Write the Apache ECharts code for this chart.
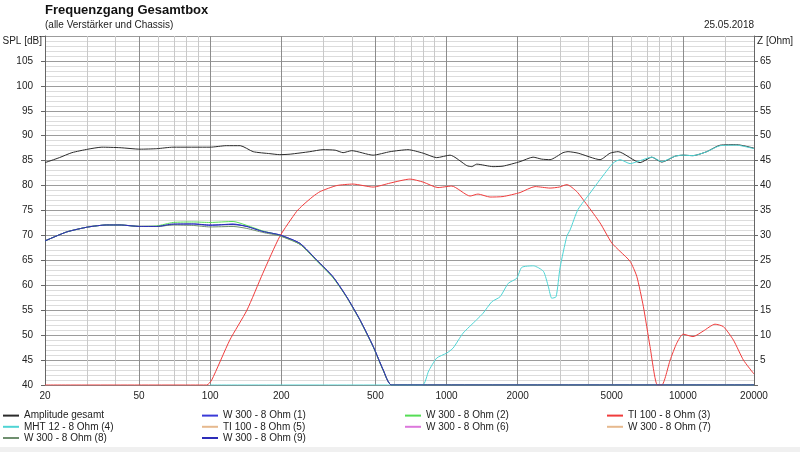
<!DOCTYPE html>
<html>
<head>
<meta charset="utf-8" />
<title>Frequenzgang Gesamtbox</title>
<script src="https://cdn.jsdelivr.net/npm/echarts@6/dist/echarts.min.js"></script>
<style>
  html, body { margin: 0; padding: 0; background: #fff; }
  #chart { width: 800px; height: 452px; }
</style>
</head>
<body>
<div id="chart"></div>
<script type="text/javascript">
// Achsen / Gitter
var freqLabels = [20, 50, 100, 200, 500, 1000, 2000, 5000, 10000, 20000];
var freqGridMinor = [30, 40, 60, 70, 80, 90, 300, 400, 600, 700, 800, 900,
  3000, 4000, 6000, 7000, 8000, 9000, 15000];

// Amplitude gesamt
var gesamtFreq = [20, 23, 26, 30.4, 34.8, 41.5, 50.5, 59.4, 69.6, 100, 117, 134, 152, 179, 197,
  218, 264, 300, 338, 365, 397, 489, 577, 687, 796, 909, 1035, 1219, 1279, 1342,
  1574, 1735, 2047, 2324, 2529, 2742, 3112, 3268, 3605, 4464, 4920, 5322, 6592, 7388, 8148,
  9278, 10020, 11040, 12620, 14380, 16910, 20000];
var gesamtSpl = [84.6, 85.6, 86.6, 87.3, 87.7, 87.6, 87.3, 87.4, 87.7, 87.7, 88.0, 88.0, 86.8, 86.4, 86.2,
  86.3, 86.8, 87.2, 87.1, 86.6, 87.0, 86.1, 86.8, 87.2, 86.5, 85.6, 86.1, 84.0, 83.8, 84.3,
  83.8, 83.9, 84.8, 85.7, 85.3, 85.2, 86.6, 86.8, 86.5, 85.2, 86.5, 86.8, 84.6, 85.7, 84.7,
  85.9, 86.1, 86.0, 86.8, 88.1, 88.2, 87.5];

// W 300 Tieftoener (1), (2), (8), (9)
var wFreq = [20, 24.7, 30.5, 36.5, 41.5, 50.5, 59.4, 69.8, 84.9, 100, 125, 143, 167, 197, 240,
  282, 331, 378, 430, 490, 540, 586, 20000];
var w1Spl = [68.9, 70.7, 71.7, 72.1, 72.1, 71.8, 71.8, 72.2, 72.3, 72.0, 72.3, 71.8, 70.8, 70.1, 68.4,
  65.1, 61.7, 57.7, 53.1, 47.7, 43.0, 40, 40];
var w2Spl = [68.9, 70.7, 71.7, 72.1, 72.1, 71.8, 71.9, 72.6, 72.7, 72.6, 72.8, 72.0, 70.9, 70.0, 68.2,
  64.9, 61.5, 57.6, 53.0, 47.6, 42.9, 40, 40];
var w8Spl = [68.9, 70.7, 71.7, 72.1, 72.1, 71.8, 71.8, 72.1, 72.0, 71.7, 71.8, 71.4, 70.6, 69.9, 68.2,
  65.0, 61.6, 57.6, 53.0, 47.6, 42.9, 40, 40];
var w9Spl = [68.9, 70.7, 71.7, 72.1, 72.1, 71.8, 71.8, 72.3, 72.3, 72.1, 72.2, 71.8, 70.8, 70.1, 68.4,
  65.1, 61.7, 57.7, 53.1, 47.7, 43.0, 40, 40];

// TI 100 (3)
var tiFreq = [20, 96.7, 101.5, 121, 143, 167, 197, 232, 247, 272, 292, 343, 402, 489, 577,
  701, 796, 920, 1052, 1258, 1359, 1528, 1735, 2047, 2370, 2742, 3000, 3228, 3556, 3922,
  4464, 5000, 5426, 5980, 6382, 6808, 7263, 7800, 8150, 8834, 9426, 10020, 11040, 12180, 13680,
  14850, 16370, 18040, 20000];
var tiSpl = [40, 40, 41, 49, 55, 62.4, 69.8, 74.8, 76.1, 77.8, 78.8, 80.0, 80.3, 79.7, 80.5,
  81.3, 80.7, 79.6, 79.9, 77.9, 78.3, 77.7, 77.8, 78.6, 79.8, 79.5, 79.7, 80.2, 78.8, 76.2,
  72.5, 68.5, 66.8, 64.8, 61.8, 55.7, 47.7, 40, 40, 45, 48.4, 50.2, 49.7, 50.8, 52.2,
  51.7, 49.0, 45.0, 42.2];

// MHT 12 (4)
var mhtFreq = [100, 790, 840, 909, 1002, 1066, 1175, 1342, 1428, 1555, 1685, 1826, 1982, 2082, 2332,
  2570, 2698, 2788, 2908, 3022, 3228, 3333, 3600, 4050, 4464, 5066, 5426, 5980, 6592, 7388,
  8148, 9278, 10020, 11040, 12620, 14380, 16910, 20000];
var mhtSpl = [40, 40, 42.8, 45.4, 46.4, 47.4, 50.4, 53.1, 54.4, 56.7, 57.7, 60.4, 61.4, 63.6, 63.9,
  62.8, 59.7, 57.4, 57.7, 63.5, 69.8, 71.1, 75.2, 78.5, 81.2, 84.5, 85.2, 84.4, 85.0, 85.7,
  84.8, 85.9, 86.1, 86.0, 86.8, 88.0, 88.1, 87.4];

var legendCols = [
  ["Amplitude gesamt", "MHT 12 - 8 Ohm (4)", "W 300 - 8 Ohm (8)"],
  ["W 300 - 8 Ohm (1)", "TI 100 - 8 Ohm (5)", "W 300 - 8 Ohm (9)"],
  ["W 300 - 8 Ohm (2)", "W 300 - 8 Ohm (6)"],
  ["TI 100 - 8 Ohm (3)", "W 300 - 8 Ohm (7)"]
];
var legendLeft = [2, 201, 404, 606];

var FONT = '"Liberation Sans", Arial, sans-serif';

function pts(freq, spl) {
  return freq.map(function (f, i) { return [Math.log10(f), spl[i]]; });
}

function kurve(name, color, data) {
  return {
    name: name, type: "line", data: data, symbol: "none", z: 3,
    smooth: 0.2,
    lineStyle: { color: color, width: 1 }, itemStyle: { color: color },
    animation: false
  };
}

var gridLines = [];
freqGridMinor.forEach(function (f) {
  gridLines.push({ xAxis: Math.log10(f), lineStyle: { color: "#c9c9c9", width: 1, type: "solid" } });
});
freqLabels.slice(1, -1).forEach(function (f) {
  gridLines.push({ xAxis: Math.log10(f), lineStyle: { color: "#8c8c8c", width: 1, type: "solid" } });
});

var series = [
  {
    type: "line", data: [[Math.log10(20), 40]], symbol: "none", z: 1,
    lineStyle: { opacity: 0 }, animation: false, silent: true,
    markLine: { silent: true, symbol: "none", z: 1, label: { show: false }, animation: false, data: gridLines }
  },
  kurve("Amplitude gesamt", "#2b2b2b", pts(gesamtFreq, gesamtSpl)),
  kurve("W 300 - 8 Ohm (1)", "#3a3ad8", pts(wFreq, w1Spl)),
  kurve("W 300 - 8 Ohm (2)", "#55dd55", pts(wFreq, w2Spl)),
  kurve("TI 100 - 8 Ohm (3)", "#f03c3c", pts(tiFreq, tiSpl)),
  kurve("MHT 12 - 8 Ohm (4)", "#4fd4d4", pts(mhtFreq, mhtSpl)),
  kurve("TI 100 - 8 Ohm (5)", "#e6b98e", []),
  kurve("W 300 - 8 Ohm (6)", "#dc78dc", []),
  kurve("W 300 - 8 Ohm (7)", "#e6b98e", []),
  kurve("W 300 - 8 Ohm (8)", "#6f8f6f", pts(wFreq, w8Spl)),
  kurve("W 300 - 8 Ohm (9)", "#2c2cb8", pts(wFreq, w9Spl))
];

var legends = legendCols.map(function (col, i) {
  return {
    data: col, orient: "vertical", left: legendLeft[i], top: 410,
    itemWidth: 16, itemHeight: 14, itemGap: 0, padding: 0, selectedMode: false,
    itemStyle: { opacity: 0 },
    textStyle: { fontSize: 10, color: "#222", fontFamily: FONT }
  };
});

var chart = echarts.init(document.getElementById("chart"), null, { renderer: "canvas" });
chart.setOption({
  animation: false,
  backgroundColor: "#fff",
  textStyle: { fontFamily: FONT },
  grid: { left: 45, right: 46, top: 36, bottom: 67, containLabel: false },
  graphic: [
    { type: "text", left: 45, top: 4, style: { text: "Frequenzgang Gesamtbox", font: "bold 13px " + FONT, fill: "#111" } },
    { type: "text", left: 45, top: 20, style: { text: "(alle Verstärker und Chassis)", font: "10px " + FONT, fill: "#222" } },
    { type: "text", right: 46, top: 20, style: { text: "25.05.2018", font: "10px " + FONT, fill: "#222" } },
    { type: "text", right: 758, top: 36, style: { text: "SPL [dB]", font: "10px " + FONT, fill: "#222" } },
    { type: "text", left: 757, top: 36, style: { text: "Z [Ohm]", font: "10px " + FONT, fill: "#222" } },
    { type: "rect", left: 0, top: 447, shape: { width: 800, height: 5 }, style: { fill: "#f0f0f0" } }
  ],
  legend: legends,
  xAxis: {
    type: "value",
    min: Math.log10(20), max: Math.log10(20000),
    axisLine: { show: true, lineStyle: { color: "#888" } },
    axisTick: { show: false },
    splitLine: { show: false },
    axisLabel: {
      customValues: freqLabels.map(function (f) { return Math.log10(f); }),
      formatter: function (v) { return String(Math.round(Math.pow(10, v))); },
      fontSize: 10, color: "#222", margin: 6, fontFamily: FONT
    }
  },
  yAxis: [
    {
      type: "value", min: 40, max: 110, interval: 5, position: "left",
      axisLine: { show: true, lineStyle: { color: "#666" } },
      axisTick: { show: true, length: 4, lineStyle: { color: "#666" } },
      axisLabel: {
        fontSize: 10, color: "#222", margin: 12, fontFamily: FONT,
        formatter: function (v) { return v >= 110 ? "" : String(v); }
      },
      splitLine: { show: true, lineStyle: { color: "#9c9c9c" } },
      minorTick: { show: false, splitNumber: 5 },
      minorSplitLine: { show: true, lineStyle: { color: "#dcdcdc" } }
    },
    {
      type: "value", min: 0, max: 70, interval: 5, position: "right",
      axisLine: { show: true, lineStyle: { color: "#666" } },
      axisTick: { show: true, length: 4, lineStyle: { color: "#666" } },
      axisLabel: {
        fontSize: 10, color: "#222", margin: 6, fontFamily: FONT,
        formatter: function (v) { return (v <= 0 || v >= 70) ? "" : String(v); }
      },
      splitLine: { show: false }
    }
  ],
  series: series
});
</script>
</body>
</html>
